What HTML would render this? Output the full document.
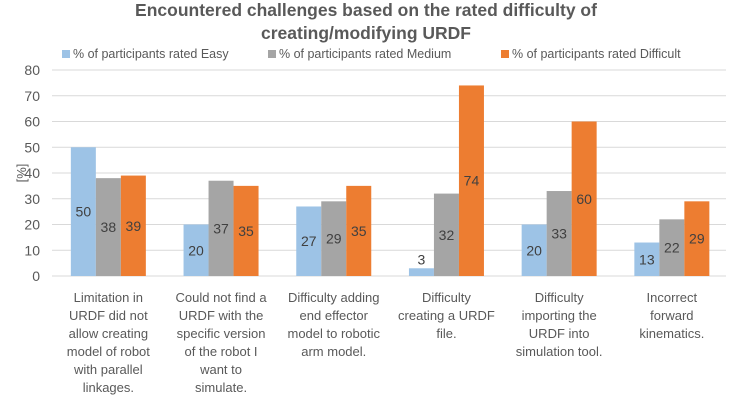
<!DOCTYPE html>
<html><head><meta charset="utf-8"><style>
body{margin:0;background:#fff;}
svg text{font-family:"Liberation Sans",sans-serif;}
</style></head><body>
<svg id="chart" width="729" height="404" xmlns="http://www.w3.org/2000/svg">
<text x="366" y="16" text-anchor="middle" font-size="17.5" font-weight="bold" fill="#595959">Encountered challenges based on the rated difficulty of</text>
<text x="366" y="39" text-anchor="middle" font-size="17.5" font-weight="bold" fill="#595959">creating/modifying  URDF</text>
<g id="legend" font-size="12.5" fill="#595959">
<g><rect x="62" y="50" width="8" height="8" fill="#9dc3e6"/><text x="73" y="58">% of participants rated Easy</text></g>
<g><rect x="268" y="50" width="8" height="8" fill="#a5a5a5"/><text x="279" y="58">% of participants rated Medium</text></g>
<g><rect x="501" y="50" width="8" height="8" fill="#ed7d31"/><text x="512" y="58">% of participants rated Difficult</text></g>
</g>
<text transform="translate(26,173) rotate(-90)" text-anchor="middle" font-size="13" fill="#595959">[%]</text>
<g id="grid"></g><g id="bars"></g><g id="labels"></g>
</svg>
<script>
const categories=[["Limitation in","URDF did not","allow creating","model of robot","with parallel","linkages."],["Could not find a","URDF with the","specific version","of the robot I","want to","simulate."],["Difficulty adding","end effector","model to robotic","arm model."],["Difficulty","creating a URDF","file."],["Difficulty","importing the","URDF into","simulation tool."],["Incorrect","forward","kinematics."]];
const easy=[50,20,27,3,20,13];
const medium=[38,37,29,32,33,22];
const difficult=[39,35,35,74,60,29];
const yTicks=[0,10,20,30,40,50,60,70,80];
const NS="http://www.w3.org/2000/svg";
const x0=52,catW=112.7,y0=276,yTop=70,yMax=80,barW=25;
const y=v=>y0-(v/yMax)*(y0-yTop);
function mk(tag,attrs,parent,txt){const e=document.createElementNS(NS,tag);for(const k in attrs)e.setAttribute(k,attrs[k]);if(txt!==undefined)e.textContent=txt;parent.appendChild(e);return e;}
const grid=document.getElementById('grid'),bars=document.getElementById('bars'),labels=document.getElementById('labels');
yTicks.forEach(t=>{
  const l=mk('line',{x1:x0,x2:726,y1:y(t),y2:y(t),stroke:'#d9d9d9','stroke-width':1},grid);
  
  
  const tx=mk('text',{x:40,y:y(t)+5,'text-anchor':'end','font-size':14,fill:'#595959'},grid,String(t));
  
  
});
const series=[[easy,'#9dc3e6','easy'],[medium,'#a5a5a5','medium'],[difficult,'#ed7d31','difficult']];
categories.forEach((cat,i)=>{
  const cx=x0+catW*(i+0.5);
  series.forEach(([arr,col,nm],s)=>{
    const bx=cx-1.5*barW+s*barW;
    const r=mk('rect',{x:bx,y:y(arr[i]),width:barW,height:y0-y(arr[i]),fill:col},bars);
    
    
    const h=y0-y(arr[i]);
    const ty=h<20?y(arr[i])-4:(y(arr[i])+y0)/2+5;
    const t=mk('text',{x:bx+barW/2,y:ty,'text-anchor':'middle','font-size':14,fill:'#404040'},labels,String(arr[i]));
    
    
  });
  const g=mk('text',{'text-anchor':'middle','font-size':13,fill:'#595959'},labels);
  
  
  cat.forEach((ln,k)=>{mk('tspan',{x:cx,y:302+k*18},g,ln);});
});
</script>
</body></html>
